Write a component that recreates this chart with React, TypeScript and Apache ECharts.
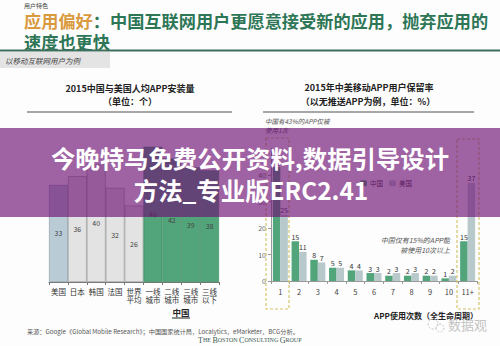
import React, { useEffect, useRef } from 'react';
import * as echarts from 'echarts';

// ---- Data ----
const leftCategories = ['美国', '日本', '韩国', '法国', '世界\n平均', '一线\n城市', '二线\n城市', '三线\n城市', '三线\n以下'];
const leftValues = [33, 36, 40, 32, 26, 46, 42, 39, 38];
const leftGroups = ['美国', '其他', '其他', '其他', '其他', '中国', '中国', '中国', '中国'];

const rightCategories = ['1', '2', '3', '4', '5', '6', '7', '8', '9', '10', '11+'];
const chinaRetention = [43, 15, 8, 5, 4, 3, 2, 2, 2, 1, 15];
const usRetention = [25, 11, 7, 5, 4, 3, 3, 3, 2, 2, 37];

const FONT = '"Noto Sans CJK SC", "Noto Sans", sans-serif';
const GREEN = '#52a47a';
const USBLUE = '#b8c9cc';

const groupStyle: Record<string, { color: string; borderColor: string }> = {
  美国: { color: '#b9ccd6', borderColor: '#8d9ea6' },
  其他: { color: '#e3e3e3', borderColor: '#9a9a9a' },
  中国: { color: GREEN, borderColor: '#3f8c64' },
};

function txt(text: string, x: number, y: number, o: any = {}) {
  const { align = 'left', size = 8, weight = 'normal', fill = '#333', style = 'normal', z = 10, family = FONT, ...rest } = o;
  return {
    type: 'text',
    z,
    style: {
      text,
      x,
      y,
      fill,
      fontSize: size,
      fontWeight: weight,
      fontStyle: style,
      fontFamily: family,
      align,
      textAlign: align,
      verticalAlign: 'middle',
      textVerticalAlign: 'middle',
      ...rest,
    },
  };
}

export default function App() {
  const ref = useRef<HTMLDivElement>(null);
  useEffect(() => {
    if (!ref.current) return;
    const chart = echarts.init(ref.current, null, { renderer: 'svg' });
    const option: any = {
      animation: false,
      backgroundColor: '#fdfdfd',
      textStyle: { fontFamily: FONT },
      legend: {
        data: ['中国', '美国'],
        left: 355,
        top: 175,
        itemWidth: 7,
        itemHeight: 6,
        itemGap: 6,
        textStyle: { fontSize: 6.5, color: '#333', fontFamily: FONT, padding: [0, 0, 0, -2] },
        z: 5,
      },
      grid: [
        { left: 49, width: 170, top: 135, height: 147, containLabel: false },
        { left: 271, width: 206, top: 148.5, height: 132.5, containLabel: false },
      ],
      xAxis: [
        {
          gridIndex: 0,
          type: 'category',
          data: leftCategories,
          axisLine: { show: true, lineStyle: { color: '#777', width: 1 } },
          axisTick: { show: true, length: 3, lineStyle: { color: '#777' } },
          axisLabel: { fontSize: 7.5, color: '#333', lineHeight: 8, margin: 5, interval: 0, fontFamily: FONT },
        },
        {
          gridIndex: 1,
          type: 'category',
          data: rightCategories,
          axisLine: { show: true, lineStyle: { color: '#999', width: 1 } },
          axisTick: { show: true, length: 3, lineStyle: { color: '#999' } },
          axisLabel: { fontSize: 7.5, color: '#444', margin: 7, interval: 0, fontFamily: FONT },
        },
      ],
      yAxis: [
        { gridIndex: 0, type: 'value', min: 0, max: 50, show: false },
        {
          gridIndex: 1,
          type: 'value',
          min: 0,
          max: 50,
          interval: 10,
          axisLine: { show: true, lineStyle: { color: '#999' } },
          axisTick: { show: true, length: 3, lineStyle: { color: '#999' } },
          axisLabel: { fontSize: 7, color: '#666', margin: 5, showMaxLabel: false, fontFamily: FONT },
          splitLine: { show: false },
        },
      ],
      series: [
        {
          name: '安装量',
          type: 'bar',
          xAxisIndex: 0,
          yAxisIndex: 0,
          barCategoryGap: '0%',
          data: leftValues.map((v, i) => ({
            value: v,
            itemStyle: { color: groupStyle[leftGroups[i]].color, borderColor: groupStyle[leftGroups[i]].borderColor, borderWidth: 0.7 },
          })),
          label: { show: true, position: 'inside', fontSize: 7, color: '#444', fontFamily: FONT },
        },
        {
          name: '中国',
          type: 'bar',
          xAxisIndex: 1,
          yAxisIndex: 1,
          barWidth: 7.5,
          barGap: '0%',
          itemStyle: { color: GREEN },
          data: chinaRetention,
          label: { show: true, position: 'top', distance: 1, fontSize: 7, color: '#333', fontFamily: FONT },
        },
        {
          name: '美国',
          type: 'bar',
          xAxisIndex: 1,
          yAxisIndex: 1,
          barWidth: 7.5,
          barGap: '0%',
          itemStyle: { color: USBLUE },
          data: usRetention,
          label: { show: true, position: 'top', distance: 1, fontSize: 7, color: '#333', fontFamily: FONT },
        },
      ],
      graphic: [
        txt('用户特色', 24, 5, { size: 6, fill: '#444' }),
        {
          type: 'text',
          z: 10,
          style: {
            x: 24,
            y: 20,
            text: '{o|应用偏好}{g|：中国互联网用户更愿意接受新的应用，抛弃应用的}',
            verticalAlign: 'middle',
            textVerticalAlign: 'middle',
            rich: {
              o: { fontSize: 17.2, fontWeight: 'bold', fill: '#d99a3e', color: '#d99a3e', fontFamily: FONT },
              g: { fontSize: 17.2, fontWeight: 'bold', fill: '#2d7656', color: '#2d7656', fontFamily: FONT },
            },
          },
        },
        txt('速度也更快', 24, 41, { size: 17.2, weight: 'bold', fill: '#2d7656' }),
        { type: 'line', z: 10, shape: { x1: 0, y1: 50.5, x2: 500, y2: 50.5 }, style: { stroke: '#3e6f5c', lineWidth: 2 } },
        { type: 'rect', z: 9, shape: { x: 0, y: 52, width: 110, height: 16 }, style: { fill: '#e4e4e4' } },
        txt('以移动互联网用户为例', 5, 60, { size: 7.5, style: 'italic', fill: '#444' }),

        // left chart title
        txt('2015中国与美国人均APP安装量', 130, 88, { size: 9, weight: 'bold', align: 'center', fill: '#222' }),
        txt('（单位：个）', 130, 101, { size: 9, weight: 'bold', align: 'center', fill: '#222' }),
        { type: 'line', z: 10, shape: { x1: 27, y1: 112, x2: 232, y2: 112 }, style: { stroke: '#8a8a8a', lineWidth: 1.5 } },

        // right chart title
        txt('2015年中美移动APP用户保留率', 369, 87, { size: 9, weight: 'bold', align: 'center', fill: '#222' }),
        txt('（以无推送APP为例，单位：%）', 368, 101, { size: 9, weight: 'bold', align: 'center', fill: '#222' }),
        { type: 'line', z: 10, shape: { x1: 263, y1: 112, x2: 474, y2: 112 }, style: { stroke: '#8a8a8a', lineWidth: 1.5 } },
        txt('中国有43%的APP仅被', 265, 121, { size: 6.5, style: 'italic', fill: '#555' }),
        txt('使用1次', 265, 130, { size: 6.5, style: 'italic', fill: '#555' }),

        // dashed highlight boxes
        { type: 'rect', z: 11, shape: { x: 266, y: 138, width: 23, height: 171 }, style: { fill: 'none', stroke: '#d6c66a', lineWidth: 1.2, lineDash: [3, 2] } },
        { type: 'rect', z: 11, shape: { x: 457, y: 139, width: 22, height: 170 }, style: { fill: 'none', stroke: '#d6c66a', lineWidth: 1.2, lineDash: [3, 2] } },

        txt('中国仅有15%的APP能', 450, 240, { size: 7, style: 'italic', fill: '#555', align: 'right' }),
        txt('被使用10次以上', 450, 250, { size: 7, style: 'italic', fill: '#555', align: 'right' }),
        txt('APP使用次数（全生命周期）', 426, 315, { size: 8, weight: 'bold', fill: '#222', align: 'center' }),

        // china group label
        txt('中国', 181, 312, { size: 8.5, weight: 'bold', fill: '#222', align: 'center' }),
        { type: 'line', z: 10, shape: { x1: 172, y1: 318, x2: 190, y2: 318 }, style: { stroke: '#222', lineWidth: 1 } },

        // source
        txt('来源：Google《Global Mobile Research》；中国国家统计局，Localytics，eMarketer，BCG分析。', 27, 331, { size: 6.2, fill: '#555' }),
        {
          type: 'text',
          z: 10,
          style: {
            x: 198,
            y: 340,
            text: '{b|T}{s|HE }{b|B}{s|OSTON }{b|C}{s|ONSULTING }{b|G}{s|ROUP}',
            verticalAlign: 'middle',
            textVerticalAlign: 'middle',
            rich: {
              b: { fontSize: 8, fill: '#3c5b50', color: '#3c5b50', fontFamily: '"Liberation Serif", serif' },
              s: { fontSize: 6, fill: '#3c5b50', color: '#3c5b50', fontFamily: '"Liberation Serif", serif' },
            },
          },
        },

        // watermark
        { type: 'circle', z: 10, shape: { cx: 433, cy: 324, r: 5 }, style: { fill: 'none', stroke: '#c8c8c8', lineWidth: 1, lineDash: [2, 1.5] } },
        { type: 'circle', z: 10, shape: { cx: 440, cy: 328, r: 4 }, style: { fill: 'none', stroke: '#c8c8c8', lineWidth: 1, lineDash: [2, 1.5] } },
        txt('数据观', 448, 324, { size: 13, fill: '#c4c4c4', family: '"Noto Sans CJK SC", serif' }),

        // purple overlay banner
        { type: 'rect', z: 100, shape: { x: 0, y: 128, width: 500, height: 89 }, style: { fill: 'rgba(109,17,117,0.65)' } },
        txt('今晚特马免费公开资料,数据引导设计', 250, 157, { size: 24.4, weight: 'bold', fill: '#ffffff', align: 'center', z: 101 }),
        txt('方法_专业版ERC2.41', 251, 189, { size: 24.4, weight: 'bold', fill: '#ffffff', align: 'center', z: 101 }),
      ],
    };
    chart.setOption(option);
    return () => chart.dispose();
  }, []);
  return <div ref={ref} style={{ position: 'fixed', left: 0, top: 0, width: 500, height: 346 }} />;
}
